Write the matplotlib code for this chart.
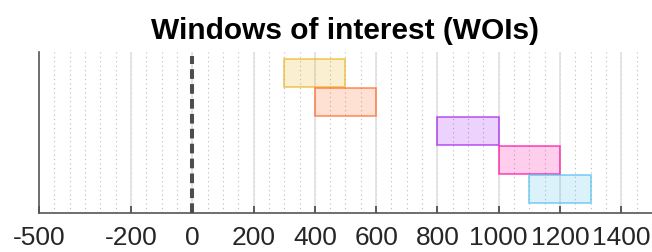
import matplotlib
matplotlib.use("Agg")
import matplotlib.pyplot as plt
import numpy as np

# windows of interest (ms)
woi_start = [300, 400, 800, 1000, 1100]
woi_end = [500, 600, 1000, 1200, 1300]
woi_colors = ["#EDB120", "#FF6929", "#A020F0", "#FF0BA0", "#4DBEEE"]
row_pos = [5, 4, 3, 2, 1]

xticks = [-500, -200, 0, 200, 400, 600, 800, 1000, 1200, 1400]

plt.rcParams['font.family'] = ['Liberation Sans', 'DejaVu Sans']

fig = plt.figure(figsize=(6.52, 2.52), dpi=100)
ax = fig.add_axes([0.0598, 0.155, 0.9402, 0.639])

# grid: dotted minor every 50, solid light major
for x in np.arange(-450, 1500, 50):
    ax.axvline(x, color="#bbbbbb", lw=0.8, ls=(0, (1, 3)), zorder=0)
for x in xticks[1:]:
    ax.axvline(x, color="#e0e0e0", lw=1.2, zorder=0.5)

for s, e, c, y in zip(woi_start, woi_end, woi_colors, row_pos):
    ax.bar(s, 0.97, width=e - s, bottom=y - 0.485, align="edge",
           facecolor=matplotlib.colors.to_rgba(c, 0.2),
           edgecolor=matplotlib.colors.to_rgba(c, 0.7), lw=1.2, zorder=2)

# stimulus onset
ax.axvline(0, ymin=0, ymax=0.975, color="#4d4d4d", lw=2.9, ls=(0, (2.4, 1.3)), zorder=3)

ax.set_xlim(-500, 1500)
ax.set_ylim(0.17, 5.72)
ax.set_xticks(xticks)
ax.set_xticklabels([str(t) for t in xticks], fontsize=19, color="#262626")
ax.tick_params(axis="x", direction="in", length=5, width=1.2, color="#444444", pad=9.5)
ax.set_yticks([])
for side in ["top", "right"]:
    ax.spines[side].set_visible(False)
for side in ["left", "bottom"]:
    ax.spines[side].set_color("#555555")
    ax.spines[side].set_linewidth(1.2)

ax.set_title("Windows of interest (WOIs)", fontsize=21.5, fontweight="bold", pad=9)

fig.savefig("out.png", dpi=100)
